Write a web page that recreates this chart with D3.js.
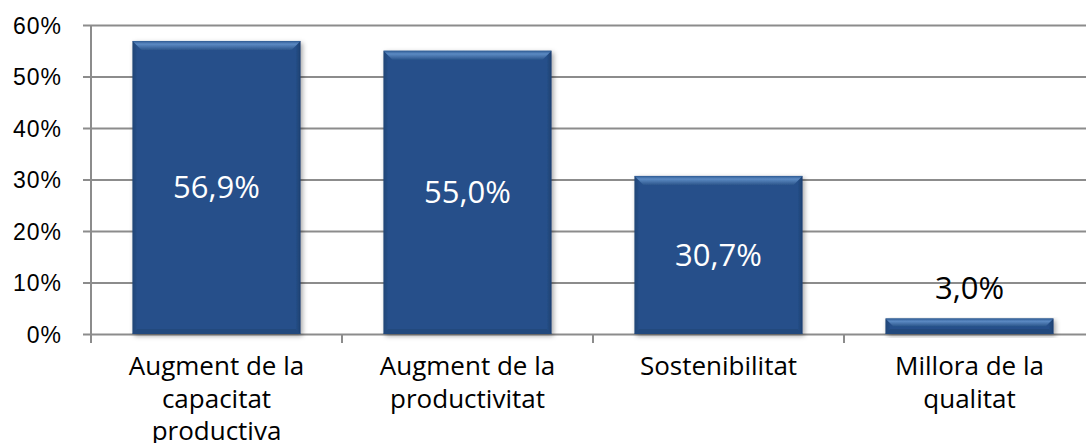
<!DOCTYPE html>
<html>
<head>
<meta charset="utf-8">
<script src="https://cdn.jsdelivr.net/npm/d3@7"></script>
<style>
  body { margin: 0; background: #fff; }
  svg { display: block; font-family: "Open Sans", sans-serif; }
</style>
</head>
<body>
<div id="chart"></div>
<script>
// Data
const categories = [
  ["Augment de la", "capacitat", "productiva"],
  ["Augment de la", "productivitat"],
  ["Sostenibilitat"],
  ["Millora de la", "qualitat"]
];
const values = [56.9, 55.0, 30.7, 3.0];
const valueLabels = ["56,9%", "55,0%", "30,7%", "3,0%"];
const yTicks = [0, 10, 20, 30, 40, 50, 60];

// Dimensions
const W = 1086, H = 443;
const margin = {top: 25, right: 0, bottom: 109, left: 91};
const innerW = 1004;
const innerH = H - margin.top - margin.bottom;

const svg = d3.select("#chart").append("svg")
    .attr("width", W)
    .attr("height", H);

const defs = svg.append("defs");

// bevel gradient for the top edge of the bars
const topGrad = defs.append("linearGradient")
    .attr("id", "topGrad").attr("x1", 0).attr("y1", 0).attr("x2", 0).attr("y2", 1);
topGrad.append("stop").attr("offset", "0%").attr("stop-color", "#2d5a92");
topGrad.append("stop").attr("offset", "35%").attr("stop-color", "#5c8ac3");
topGrad.append("stop").attr("offset", "100%").attr("stop-color", "#2c568c");

const sideGrad = defs.append("linearGradient")
    .attr("id", "sideGrad").attr("x1", 0).attr("y1", 0).attr("x2", 1).attr("y2", 0);
sideGrad.append("stop").attr("offset", "0%").attr("stop-color", "#1f4475");
sideGrad.append("stop").attr("offset", "3%").attr("stop-color", "#26508a");
sideGrad.append("stop").attr("offset", "97%").attr("stop-color", "#26508a");
sideGrad.append("stop").attr("offset", "100%").attr("stop-color", "#1c3f6e");

const shadow = defs.append("filter").attr("id", "shadow")
    .attr("x", "-10%").attr("y", "-10%").attr("width", "120%").attr("height", "130%");
shadow.append("feDropShadow")
    .attr("dx", 2).attr("dy", 2).attr("stdDeviation", 2.5)
    .attr("flood-color", "#000").attr("flood-opacity", 0.35);

const g = svg.append("g")
    .attr("transform", `translate(${margin.left},${margin.top})`);

// Scales
const x = d3.scaleBand()
    .domain(d3.range(categories.length))
    .range([0, innerW])
    .paddingInner(0.33)
    .paddingOuter(0.165);

const y = d3.scaleLinear()
    .domain([0, 60])
    .range([innerH, 0]);

// Gridlines + y axis
const yAxis = g.append("g")
    .call(d3.axisLeft(y)
        .tickValues(yTicks)
        .tickSize(-innerW)
        .tickPadding(29)
        .tickFormat(d => d + "%"));
yAxis.select(".domain").remove();
yAxis.selectAll(".tick line")
    .attr("x1", -8)
    .attr("stroke", "#8c8c8c")
    .attr("stroke-width", 2);
yAxis.selectAll(".tick text")
    .style("font-size", "23px")
    .style("letter-spacing", "1px")
    .attr("dy", "0.35em")
    .attr("fill", "#000");

// x axis with category boundary ticks
const bounds = d3.range(categories.length + 1).map(i => i * innerW / categories.length);
g.selectAll(".xtick").data(bounds).enter().append("line")
    .attr("x1", d => d).attr("x2", d => d)
    .attr("y1", innerH).attr("y2", innerH + 9)
    .attr("stroke", "#8c8c8c").attr("stroke-width", 2);
g.append("line")
    .attr("x1", 0).attr("x2", 0)
    .attr("y1", y(60)).attr("y2", innerH + 9)
    .attr("stroke", "#8c8c8c").attr("stroke-width", 2);

// Bars
const bars = g.selectAll(".bar").data(values).enter().append("g")
    .attr("class", "bar")
    .attr("filter", "url(#shadow)");

bars.append("rect")
    .attr("x", (d, i) => x(i))
    .attr("y", d => y(d))
    .attr("width", x.bandwidth())
    .attr("height", d => innerH - y(d))
    .attr("fill", "url(#sideGrad)");

// top bevel
const bev = 9;
bars.append("path")
    .attr("d", (d, i) => {
        const x0 = x(i), x1 = x(i) + x.bandwidth(), y0 = y(d);
        const b = Math.min(bev, (innerH - y0) / 2);
        return `M${x0},${y0}L${x1},${y0}L${x1 - b},${y0 + b}L${x0 + b},${y0 + b}Z`;
    })
    .attr("fill", "url(#topGrad)");

// bottom bevel (slightly darker)
bars.append("path")
    .attr("d", (d, i) => {
        const x0 = x(i), x1 = x(i) + x.bandwidth(), y0 = innerH;
        const b = Math.min(5, (innerH - y(d)) / 2);
        return `M${x0},${y0}L${x1},${y0}L${x1 - b},${y0 - b}L${x0 + b},${y0 - b}Z`;
    })
    .attr("fill", "#22497d");

// Value labels
g.selectAll(".val").data(values).enter().append("text")
    .attr("x", (d, i) => x(i) + x.bandwidth() / 2)
    .attr("y", d => d > 10 ? (y(d) + innerH) / 2 + 11 : y(d) - 20)
    .attr("text-anchor", "middle")
    .style("font-size", "31px")
    .attr("fill", d => d > 10 ? "#fff" : "#000")
    .text((d, i) => valueLabels[i]);

// Category labels
const cat = g.selectAll(".cat").data(categories).enter().append("text")
    .attr("text-anchor", "middle")
    .attr("transform", (d, i) => `translate(${x(i) + x.bandwidth() / 2},${innerH + 41})`)
    .style("font-size", "26px")
    .attr("fill", "#000");
cat.selectAll("tspan").data(d => d).enter().append("tspan")
    .attr("x", 0)
    .attr("dy", (d, i) => i === 0 ? 0 : 32.5)
    .text(d => d);
</script>
</body>
</html>
